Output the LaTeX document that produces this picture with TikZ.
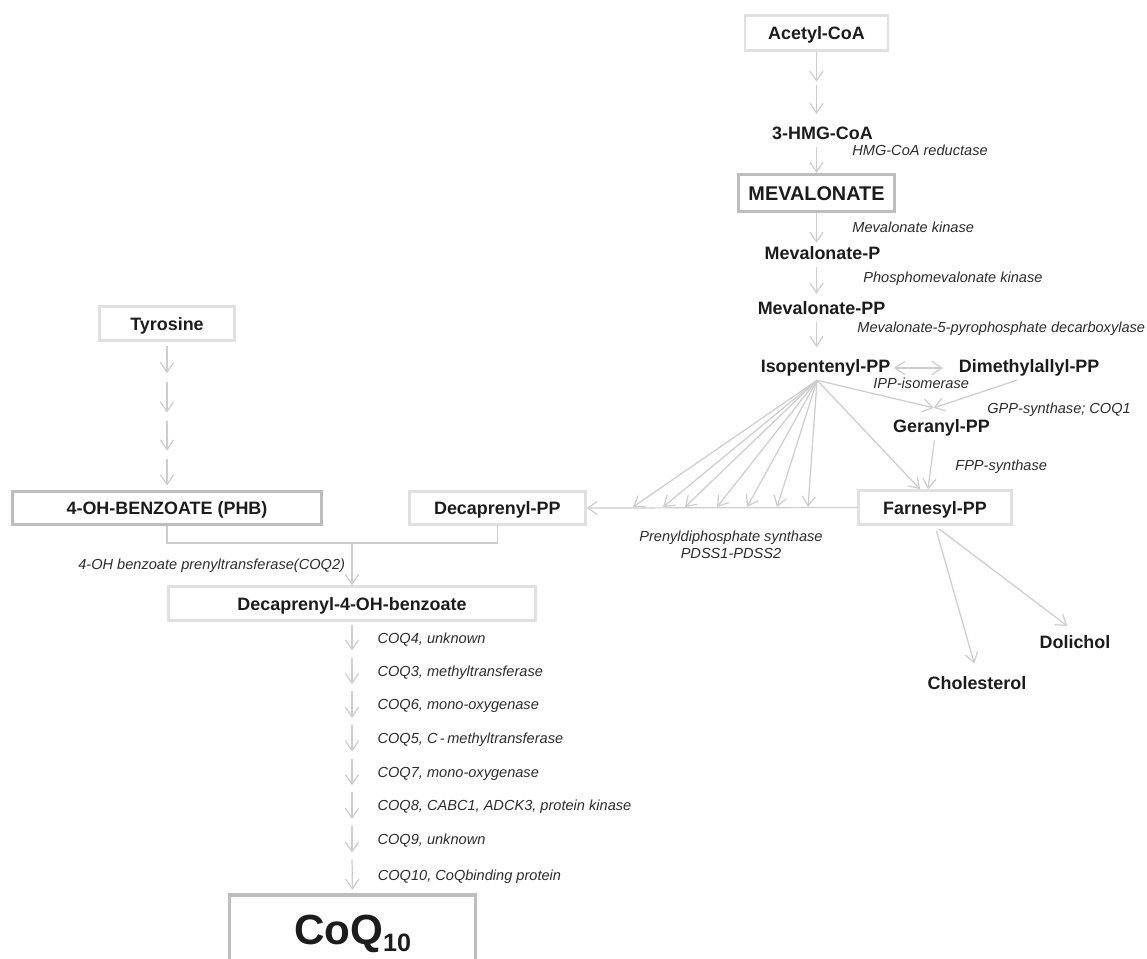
\documentclass[tikz,border=0pt]{standalone}
\usepackage{fontspec}
\setmainfont{Liberation Sans}
\usetikzlibrary{arrows.meta,positioning}
\definecolor{boxgray}{HTML}{E0E0E0}
\definecolor{darkbox}{HTML}{BDBDBD}
\definecolor{arrowgray}{HTML}{CDCDCD}
\definecolor{ink}{HTML}{1C1C1C}
\definecolor{enzink}{HTML}{2C2C2C}

\begin{document}
\begin{tikzpicture}[x=0.02cm,y=-0.02cm,
      >={Straight Barb[length=5.5pt,width=7.5pt]},
      arr/.style={->,color=arrowgray,line width=0.7pt},
      chem/.style={text=ink,font=\bfseries\fontsize{10.2}{12}\selectfont,inner sep=2pt,text height=7.4pt,text depth=2.1pt},
      box node/.style={draw=boxgray,line width=1.5pt,inner sep=0pt,text=ink,font=\bfseries\fontsize{10.2}{12}\selectfont,text height=7.4pt,text depth=0pt},
      main box/.style={box node,draw=darkbox,line width=1.8pt},
      enz/.style={text=enzink,font=\itshape\fontsize{8.3}{10}\selectfont,inner sep=0pt,anchor=west,text height=6pt,text depth=0pt}]
      \useasboundingbox (0,0) rectangle (1147,958);
      \clip (0,0) rectangle (1147,958);

      % mevalonate pathway
      \node[box node,minimum width=2.86cm,minimum height=0.70cm] (acetyl) at (816.5,33) {Acetyl-CoA};
      \node[chem] (hmg) at (822.5,135) {3-HMG-CoA};
      \node[main box,minimum width=3.12cm,minimum height=0.74cm,font=\bfseries\fontsize{11.3}{13}\selectfont,text height=8.1pt] (mev) at (816.5,193) {MEVALONATE};
      \node[chem] (mevp) at (822.5,255) {Mevalonate-P};
      \node[chem] (mevpp) at (821.5,310) {Mevalonate-PP};
      \node[chem] (ipp) at (825.5,368) {Isopentenyl-PP};
      \node[chem] (dmapp) [right=1.22cm of ipp] {Dimethylallyl-PP};
      \node[chem] (ger) at (941.5,428) {Geranyl-PP};
      \node[box node,minimum width=3.06cm,minimum height=0.68cm] (farn) at (935,507.5) {Farnesyl-PP};
      \node[chem] (chol) at (977,685) {Cholesterol};
      \node[chem] (doli) at (1075,644) {Dolichol};

      % ring and tail
      \node[box node,minimum width=2.70cm,minimum height=0.68cm] (tyr) at (167,323.5) {Tyrosine};
      \node[main box,minimum width=6.18cm,minimum height=0.66cm] (phb) at (167,508) {4-OH-BENZOATE (PHB)};
      \node[box node,minimum width=3.52cm,minimum height=0.66cm] (decapp) [right=1.7cm of phb] {Decaprenyl-PP};
      \node[box node,minimum width=7.34cm,minimum height=0.68cm] (decabenz) at (352,603.5) {Decaprenyl-4-OH-benzoate};
      \node[main box,minimum width=4.92cm,minimum height=1.44cm,font=\bfseries\fontsize{24}{26}\selectfont,text height=15pt] (coq) at (352.5,931) {CoQ\raisebox{-4pt}{\fontsize{14.3}{16}\selectfont 10}};

      % enzymes
      \node[enz] (hmgr) at (852,150) {HMG-CoA reductase};
      \node[enz] (mvk) at (852,227) {Mevalonate kinase};
      \node[enz] (pmvk) at (863,277) {Phosphomevalonate kinase};
      \node[enz] (mvd) at (857,327) {Mevalonate-5-pyrophosphate decarboxylase};
      \node[enz] (idi) at (873,383) {IPP-isomerase};
      \node[enz] (gpps) at (987,408) {GPP-synthase; COQ1};
      \node[enz] (fpps) at (955,465) {FPP-synthase};
      \node[text=enzink,font=\itshape\fontsize{8.3}{9.6}\selectfont,align=center,inner sep=0pt] (pdss) at (731,545) {Prenyldiphosphate synthase\\PDSS1-PDSS2};
      \node[enz] (coq2) at (78,564) {4-OH benzoate prenyltransferase(COQ2)};

      \coordinate (ac1) at (816.5,83.5);
      \coordinate (fan) at ([xshift=-4.8pt]ipp.south);
      \coordinate (gin) at ([xshift=-4.5pt,yshift=4.5pt]ger.north);
      \path[arr]
        (acetyl.south) edge[shorten >=1pt] (ac1)
        (ac1) edge[shorten <=1pt,shorten >=5pt] (acetyl.south |- hmg.north)
        (hmg.south -| mev.north) edge (mev.north)
        (mev.south) edge (mev.south |- mevp.north)
        (mevp.south -| mev.south) edge[shorten >=2.3pt] (mev.south |- mevpp.north)
        (mevpp.south -| mev.south) edge[shorten >=5pt] (mev.south |- ipp.north)
        (ipp.east) edge[<->,shorten >=7pt] (dmapp.west)
        (fan) edge (gin)
        ([xshift=-7pt]dmapp.south) edge (gin)
        (fan) edge ([xshift=-8.5pt]farn.north)
        ([xshift=-4pt]ger.south) edge ([xshift=-4pt]farn.north)
        (farn.west) edge (decapp.east)
        (farn.south) edge[shorten <=3pt,shorten >=5.5pt] (chol.north)
        (farn.south) edge[shorten <=3pt,shorten >=5.5pt] (doli.north);

      \foreach \x [count=\i] in {633,663,685,717,747,777,808}{
        \coordinate (tip\i) at (\x,507);
        \draw[arr] (fan) -- (tip\i);
      }

      \coordinate (ty1) at (167,377.5);
      \coordinate (ty2) at (167,417);
      \coordinate (ty3) at (167,455);
      \foreach \a/\b in {tyr.south/ty1,ty1/ty2,ty2/ty3,ty3/phb.north}
        \draw[arr,shorten <=2.5pt,shorten >=2.5pt] (\a) -- (\b);

      \coordinate (join) at (352,543);
      \draw[arrowgray,line width=0.7pt] (phb.south) |- (join) -| (decapp.south);
      \draw[arr] (join) -- (decabenz.north);

      \coordinate (q0) at (decabenz.south);
      \foreach \i in {1,...,7}
        \coordinate (q\i) at (352,{620.3+33.7*\i});
      \coordinate (q8) at (coq.north);
      \foreach \lbl [count=\i] in {{COQ4, unknown},{COQ3, methyltransferase},{COQ6, mono-oxygenase},{COQ5, C\,-\,methyltransferase},{COQ7, mono-oxygenase},{COQ8, CABC1, ADCK3, protein kinase},{COQ9, unknown},{COQ10, CoQbinding protein}}{
        \pgfmathtruncatemacro{\j}{\i-1}
        \draw[arr,shorten <=2pt,shorten >=2pt] (q\j) -- node[enz,right=0.5cm] {\lbl} (q\i);
      }
    \end{tikzpicture}
\end{document}
